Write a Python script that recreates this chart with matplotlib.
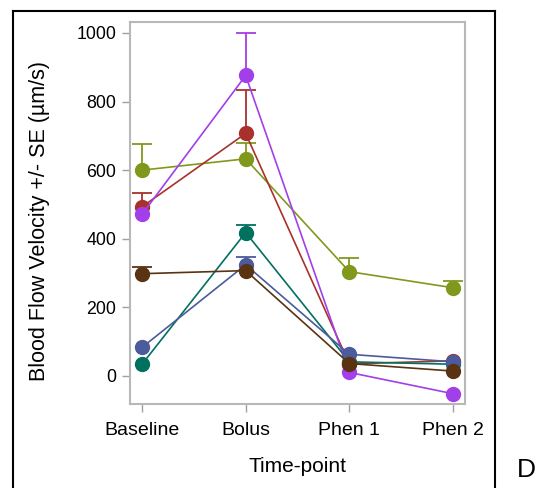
import matplotlib
matplotlib.use("Agg")
import matplotlib.pyplot as plt
from matplotlib.lines import Line2D

plt.rcParams['font.family'] = ['Liberation Sans', 'DejaVu Sans']

timepoints = ["Baseline", "Bolus", "Phen 1", "Phen 2"]

olive = [600, 633, 304, 257]
olive_se = [75, 45, 41, 21]
red = [493, 707, 35, 44]
red_se = [39, 126, 0, 0]
purple = [471, 876, 10, -52]
purple_se = [0, 124, 0, 0]
teal = [34, 418, 41, 34]
teal_se = [0, 21, 0, 0]
blue = [83, 324, 63, 41]
blue_se = [0, 22, 0, 0]
brown = [298, 307, 36, 14]
brown_se = [19, 0, 0, 0]

series = [
    (olive, olive_se, "#80991c"),
    (red, red_se, "#a8322b"),
    (purple, purple_se, "#a33fe8"),
    (teal, teal_se, "#00705f"),
    (blue, blue_se, "#4b5b9b"),
    (brown, brown_se, "#5a3312"),
]

fig = plt.figure(figsize=(5.41, 4.88), dpi=100)
ax = fig.add_axes([130/541, 1-404/488, 335/541, 382/488])

x = list(range(len(timepoints)))
z = 2
for vals, se, col in series:
    ex = [xi for xi, s in zip(x, se) if s > 0]
    lo = [v for v, s in zip(vals, se) if s > 0]
    hi = [v + s for v, s in zip(vals, se) if s > 0]
    if ex:
        ax.vlines(ex, lo, hi, color=col, linewidth=1.3, zorder=z)
        ax.plot(ex, hi, linestyle='none', marker='_', markersize=15,
                markeredgewidth=1.3, color=col, zorder=z)
    ax.plot(x, vals, color=col, marker='o', markersize=10, linewidth=1.2, zorder=z + 0.5)
    z += 1

ax.set_xlim(-0.116, 3.116)
ax.set_ylim(-82, 1032)
ax.set_xticks(x)
ax.set_xticklabels(timepoints, fontsize=14)
ax.set_yticks([0, 200, 400, 600, 800, 1000])
ax.tick_params(axis='both', direction='out', length=6, width=1, color='#a0a0a0', pad=4)
ax.tick_params(axis='x', labelsize=14, pad=7)
ax.tick_params(axis='y', labelsize=12.8)
for s in ax.spines.values():
    s.set_color('#b8b8b8')
    s.set_linewidth(1.5)
ax.set_xlabel("Time-point", fontsize=15)
ax.set_ylabel("Blood Flow Velocity +/- SE (µm/s)", fontsize=15.5)
ax.xaxis.set_label_coords(0.5, (404 - 466) / 382, transform=ax.transAxes)
ax.xaxis.label.set_va('center')
ax.yaxis.set_label_coords(-90 / 335, 0.48, transform=ax.transAxes)
ax.yaxis.label.set_va('center')

# outer frame
x0, x1, ytop = 13/541, 495/541, 1-11/488
fig.add_artist(Line2D([x0, x0], [0, ytop], color='black', linewidth=1.5, transform=fig.transFigure))
fig.add_artist(Line2D([x0, x1], [ytop, ytop], color='black', linewidth=1.5, transform=fig.transFigure))
fig.add_artist(Line2D([x1, x1], [0, ytop], color='black', linewidth=1.5, transform=fig.transFigure))
fig.text(526/541, 1-470/488, "D", fontsize=19, ha='center', va='center')

fig.savefig("out.png", dpi=100)
